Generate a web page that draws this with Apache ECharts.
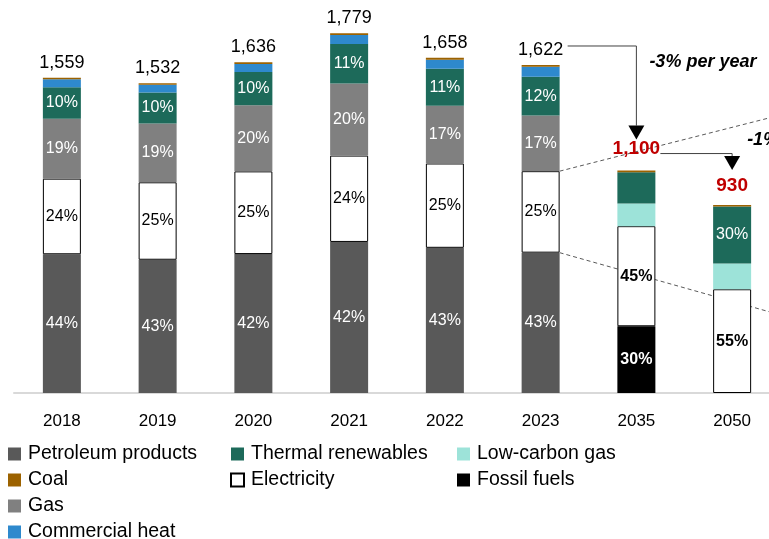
<!DOCTYPE html>
<html>
<head>
<meta charset="utf-8">
<script src="https://cdn.jsdelivr.net/npm/echarts@6/dist/echarts.min.js"></script>
<style>
  html, body { margin: 0; padding: 0; background: #fff; }
  #chart { width: 769px; height: 539px; }
</style>
</head>
<body>
<div id="chart"></div>
<script>
const years = ['2018', '2019', '2020', '2021', '2022', '2023', '2035', '2050'];
const totals = [1559, 1532, 1636, 1779, 1658, 1622, 1100, 930];

// stacked from bottom to top
const petroleum = [686, 659, 687, 747, 718, 694, null, null];
const fossilFuels = [null, null, null, null, null, null, 330, null];
const electricity = [374, 383, 409, 427, 417, 403, 495, 513];
const lowCarbonGas = [null, null, null, null, null, null, 112, 128];
const gas = [296, 291, 327, 356, 285, 275, null, null];
const thermal = [156, 153, 164, 196, 184, 192, 155, 281];
const heat = [39, 38, 40, 44, 44, 49, null, null];
const coal = [8, 8, 9, 9, 10, 9, 8, 8];

const trendLabels = ['-3% per year', '-1% per year'];
// where the dashed zoom lines meet the right edge, in axis units
const zoomLineEnds = [1360, 402];

const FONT = 'Liberation Sans';
const chart = echarts.init(document.getElementById('chart'));

const pctLabel = (values, textColor, skip) => values.map((v, i) => {
  if (v == null) return '-';
  const future = i >= 6;
  return {
    value: v,
    label: {
      show: !(skip || []).includes(years[i]),
      formatter: Math.round(v / totals[i] * 100) + '%',
      color: textColor,
      fontSize: 16,
      fontWeight: future && textColor !== '#fff' || (future && values === fossilFuels) ? 'bold' : 'normal',
    },
  };
});

const mkSeries = (name, values, color, opts) => Object.assign({
  name,
  type: 'bar',
  stack: 'total',
  barWidth: 38,
  data: values.map(v => (v == null ? '-' : v)),
  itemStyle: { color },
  label: { show: false },
}, opts || {});

const totalData = coal.map((v, i) => ({
  value: v,
  label: {
    show: true,
    position: 'top',
    formatter: totals[i].toLocaleString('en-US'),
    distance: i === 6 ? 12 : i === 7 ? 10 : 6,
    color: i >= 6 ? '#C00000' : '#000',
    fontWeight: i >= 6 ? 'bold' : 'normal',
    fontSize: i >= 6 ? 19 : 18,
    fontFamily: FONT,
  },
}));

const legendBase = {
  orient: 'vertical',
  top: 444,
  height: 120,
  padding: 0,
  icon: 'rect',
  itemWidth: 13,
  itemHeight: 13,
  itemGap: 6,
  selectedMode: false,
  textStyle: { fontSize: 19.5, color: '#000', fontFamily: FONT, lineHeight: 18, padding: [0, 0, 0, 2] },
};

chart.setOption({
  animation: false,
  textStyle: { fontFamily: FONT },
  grid: { left: 14, width: 766, top: 29, height: 364, outerBoundsMode: 'none' },
  legend: [
    Object.assign({ left: 8, data: ['Petroleum products', 'Coal', 'Gas', 'Commercial heat'] }, legendBase),
    Object.assign({ left: 230, data: ['Thermal renewables', 'Electricity'] }, legendBase),
    Object.assign({ left: 457, data: ['Low-carbon gas', 'Fossil fuels'] }, legendBase),
  ],
  xAxis: {
    type: 'category',
    data: years,
    axisLine: { lineStyle: { color: '#D9D9D9', width: 2 } },
    axisTick: { show: false },
    axisLabel: { color: '#000', fontSize: 17, margin: 20, fontFamily: FONT },
  },
  yAxis: {
    type: 'value',
    min: 0,
    max: 1800,
    show: false,
  },
  series: [
    mkSeries('Petroleum products', petroleum, '#595959', { data: pctLabel(petroleum, '#fff') }),
    mkSeries('Fossil fuels', fossilFuels, '#000000', { data: pctLabel(fossilFuels, '#fff') }),
    mkSeries('Electricity', electricity, '#FFFFFF', {
      data: pctLabel(electricity, '#000'),
      itemStyle: { color: '#FFFFFF', borderColor: '#000', borderWidth: 1 },
    }),
    mkSeries('Low-carbon gas', lowCarbonGas, '#9DE3D9'),
    mkSeries('Gas', gas, '#808080', { data: pctLabel(gas, '#fff') }),
    mkSeries('Thermal renewables', thermal, '#1D6A5A', { data: pctLabel(thermal, '#fff', ['2035']) }),
    mkSeries('Commercial heat', heat, '#2E89CD'),
    mkSeries('Coal', coal, '#9C6200', { data: totalData }),
  ],
});

// connectors and zoom lines, positioned through the chart's own scales
const px = (cat, val) => chart.convertToPixel({ gridIndex: 0 }, [cat, val]);
const p23 = px('2023', totals[5]);
const p35 = px('2035', totals[6]);
const p50 = px('2050', totals[7]);
const elecTop23 = px('2023', petroleum[5] + electricity[5]);
const petTop23 = px('2023', petroleum[5]);
const edgeX = chart.getWidth();
const upperEnd = px('2050', zoomLineEnds[0]);
const lowerEnd = px('2050', zoomLineEnds[1]);

const lineStyle = { stroke: '#404040', lineWidth: 1, fill: null };
const arrowHead = (x, tipY) => ({
  type: 'polygon',
  shape: { points: [[x - 8, tipY - 14], [x + 8, tipY - 14], [x, tipY]] },
  style: { fill: '#000' },
  z: 10,
});

const y1 = p23[1] - 19;
const tip1 = p35[1] - 31;
const y2 = p35[1] - 17;
const tip2 = p50[1] - 35;

chart.setOption({
  graphic: [
    {
      type: 'line', z: 1,
      shape: { x1: p23[0] + 19, y1: elecTop23[1], x2: edgeX, y2: upperEnd[1] },
      style: { stroke: '#595959', lineWidth: 1, lineDash: [4, 3] },
    },
    {
      type: 'line', z: 1,
      shape: { x1: p23[0] + 19, y1: petTop23[1], x2: edgeX, y2: lowerEnd[1] },
      style: { stroke: '#595959', lineWidth: 1, lineDash: [4, 3] },
    },
    {
      type: 'polyline', z: 10,
      shape: { points: [[p23[0] + 27, y1], [p35[0], y1], [p35[0], tip1 - 14]] },
      style: lineStyle,
    },
    arrowHead(p35[0], tip1),
    {
      type: 'polyline', z: 10,
      shape: { points: [[p35[0] + 24, y2], [p50[0], y2], [p50[0], tip2 - 12]] },
      style: lineStyle,
    },
    arrowHead(p50[0], tip2),
    {
      type: 'text', z: 10,
      x: p35[0] + 13, y: y1 + 16,
      style: {
        text: trendLabels[0], fill: '#000', font: 'italic bold 18px "Liberation Sans"',
        verticalAlign: 'middle',
      },
    },
    {
      type: 'text', z: 10,
      x: p50[0] + 15, y: tip1,
      style: {
        text: trendLabels[1], fill: '#000', font: 'italic bold 18px "Liberation Sans"',
        verticalAlign: 'middle',
      },
    },
  ],
});

window.addEventListener('resize', () => chart.resize());
</script>
</body>
</html>
